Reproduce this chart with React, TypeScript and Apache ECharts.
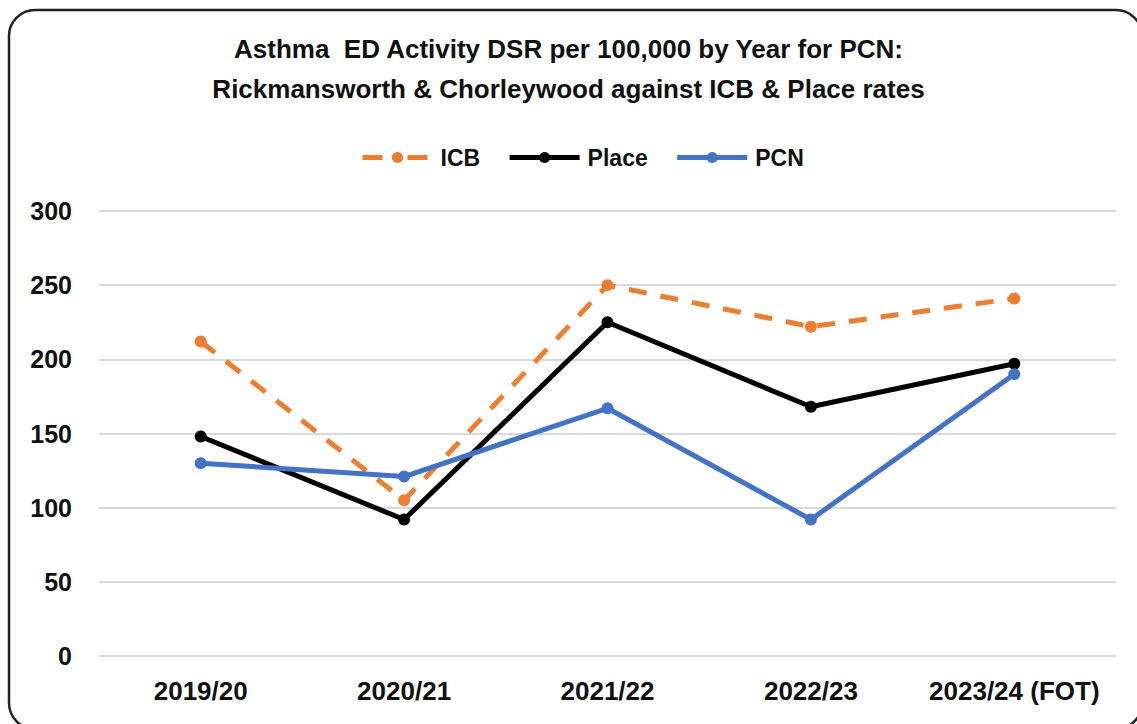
import React, { useEffect, useRef } from "react";
import * as echarts from "echarts";

const categories = ["2019/20", "2020/21", "2021/22", "2022/23", "2023/24 (FOT)"];
const icbValues = [212, 105, 250, 222, 241];
const placeValues = [148, 92, 225, 168, 197];
const pcnValues = [130, 121, 167, 92, 190];
const titleLines = [
  "Asthma  ED Activity DSR per 100,000 by Year for PCN:",
  "Rickmansworth & Chorleywood against ICB & Place rates",
];

const FONT = "'Liberation Sans', Arial, sans-serif";

export default function App() {
  const ref = useRef<HTMLDivElement>(null);
  useEffect(() => {
    if (!ref.current) return;
    const chart = echarts.init(ref.current, null, { renderer: "svg" });
    const mk = (name: string, data: number[], color: string, dashed: boolean) => ({
      name,
      type: "line",
      data,
      symbol: "circle",
      symbolSize: 12,
      itemStyle: { color },
      lineStyle: { color, width: 5, type: dashed ? [18, 14] : "solid" },
      z: dashed ? 1 : 2,
    });
    chart.setOption({
      animation: false,
      backgroundColor: "#ffffff",
      textStyle: { fontFamily: FONT },
      title: {
        text: titleLines.join("\n"),
        left: "center",
        top: 24,
        textStyle: {
          fontFamily: FONT,
          fontSize: 26,
          fontWeight: "bold",
          color: "#111",
          lineHeight: 40,
        },
      },
      legend: {
        top: 141,
        left: 355,
        itemWidth: 70,
        itemHeight: 14,
        itemGap: 27,
        lineStyle: { width: 5 },
        textStyle: {
          fontFamily: FONT,
          fontSize: 23,
          fontWeight: "bold",
          color: "#111",
          padding: [0, 0, 0, 3],
        },
        data: [
          { name: "ICB", lineStyle: { type: [20, 25] } },
          { name: "Place" },
          { name: "PCN" },
        ],
      },
      grid: { left: 99, right: 21, top: 211, bottom: 68, containLabel: false },
      xAxis: {
        type: "category",
        data: categories,
        boundaryGap: true,
        axisLine: { show: false },
        axisTick: { show: false },
        axisLabel: {
          interval: 0,
          fontFamily: FONT,
          fontSize: 26,
          fontWeight: "bold",
          color: "#111",
          margin: 22,
        },
      },
      yAxis: {
        type: "value",
        min: 0,
        max: 300,
        interval: 50,
        axisLine: { show: false },
        axisTick: { show: false },
        splitLine: { lineStyle: { color: "#d9d9d9", width: 2 } },
        axisLabel: {
          fontFamily: FONT,
          fontSize: 25,
          fontWeight: "bold",
          color: "#111",
          margin: 27,
        },
      },
      graphic: [
        {
          type: "rect",
          shape: { x: 9, y: 10, width: 1133, height: 719, r: 26 },
          style: { fill: "none", stroke: "#222", lineWidth: 2.5 },
          silent: true,
          z: -1,
        },
      ],
      series: [
        mk("ICB", icbValues, "#ED7D31", true),
        mk("Place", placeValues, "#000000", false),
        mk("PCN", pcnValues, "#4472C4", false),
      ],
    });
    return () => chart.dispose();
  }, []);
  return (
    <div
      ref={ref}
      style={{ position: "absolute", left: 0, top: 0, width: 1137, height: 724, background: "#fff" }}
    />
  );
}
